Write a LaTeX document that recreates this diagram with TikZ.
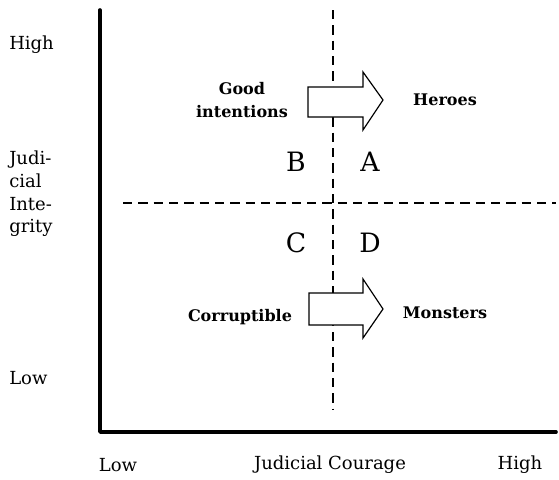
\documentclass[tikz,border=0pt]{standalone}
\usepackage{fontspec}
\setmainfont{DejaVu Serif}
\begin{document}
\begin{tikzpicture}[x=0.75pt,y=-0.75pt,
  axisline/.style={line width=2.7pt, line cap=round, line join=round},
  divline/.style={line width=1.4pt, dash pattern=on 7pt off 4.5pt},
  lbl/.style={font=\fontsize{13.5}{17}\selectfont, inner sep=0pt},
  blbl/.style={font=\bfseries\fontsize{12}{17}\selectfont, inner sep=0pt, align=center},
  quad/.style={font=\fontsize{20}{22}\selectfont, inner sep=0pt},
  bigarrow/.style={draw=black, line width=0.9pt, fill=white, line join=miter}]
\useasboundingbox (0,0) rectangle (559,479);
% axes
\coordinate (top) at (100,10);
\coordinate (origin) at (100,432);
\coordinate (right) at (556,432);
\draw[axisline] (top) -- (origin) -- (right);
% dividers
\coordinate (vtop) at (333,10);
\coordinate (vbot) at (333,410);
\coordinate (hl) at (123,203);
\coordinate (hr) at (556,203);
\draw[divline] (vtop) -- (vbot);
\draw[divline] (hl) -- (hr);
% arrows
\draw[bigarrow] (308,87) -- (363,87) -- (363,72) -- (383,100) -- (363,130) -- (363,117) -- (308,117) -- cycle;
\draw[bigarrow] (309,293) -- (363,293) -- (363,279) -- (383,309) -- (363,338) -- (363,325) -- (309,325) -- cycle;
% texts
\node[blbl] (good) at (242,100) {Good\\intentions};
\node[blbl] (heroes) at (445,100) {Heroes};
\node[blbl] (corr) at (240,317) {Corruptible};
\node[blbl] (mon) at (445,313) {Monsters};
\node[quad] (B) at (296,162) {B};
\node[quad] (A) at (370,162) {A};
\node[quad] (C) at (296,243) {C};
\node[quad] (D) at (370,243) {D};
\node[lbl, anchor=west] (yhigh) at (9,45) {High};
\node[lbl, anchor=west, align=left] (yint) at (9,194) {Judi-\\cial\\Inte-\\grity};
\node[lbl, anchor=west] (ylow) at (9,378) {Low};
\node[lbl] (xlow) at (118,465) {Low};
\node[lbl] (xmid) at (330,465) {Judicial Courage};
\node[lbl] (xhigh) at (520,465) {High};
\end{tikzpicture}
\end{document}
